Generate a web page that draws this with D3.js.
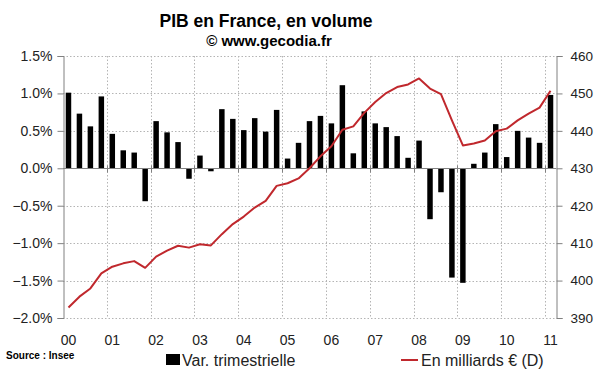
<!DOCTYPE html>
<html>
<head>
<meta charset="utf-8">
<script src="https://cdn.jsdelivr.net/npm/d3@7"></script>
<style>
  body { margin: 0; background: #fff; }
  svg { display: block; font-family: "Liberation Sans", Arial, sans-serif; }
</style>
</head>
<body>
<div id="chart"></div>
<script>
const width = 600;
const height = 372;

// données trimestrielles 2000T1 -> 2011T1
const quarters = d3.range(45).map(i => `${2000 + Math.floor(i / 4)}T${i % 4 + 1}`);
const yearLabels = ['00', '01', '02', '03', '04', '05', '06', '07', '08', '09', '10', '11'];

// variation trimestrielle (%)
const varTrim = [
  1.01, 0.73, 0.56, 0.96, 0.46, 0.24, 0.21, -0.44,
  0.63, 0.48, 0.35, -0.14, 0.17, -0.04, 0.79, 0.66,
  0.51, 0.67, 0.49, 0.78, 0.13, 0.34, 0.63, 0.70,
  0.60, 1.11, 0.20, 0.76, 0.60, 0.55, 0.43, 0.14,
  0.37, -0.68, -0.32, -1.46, -1.53, 0.06, 0.21, 0.59,
  0.15, 0.50, 0.41, 0.34, 0.98
];

// PIB en milliards d'euros (axe droit)
const pibVolume = [
  392.8, 395.7, 397.9, 401.9, 403.7, 404.6, 405.2, 403.4,
  406.4, 408.0, 409.3, 408.8, 409.7, 409.4, 412.4, 415.1,
  417.1, 419.5, 421.3, 425.3, 426.0, 427.3, 430.0, 433.2,
  435.9, 440.3, 441.2, 444.8, 447.7, 450.1, 451.7, 452.4,
  454.0, 451.3, 449.8, 442.8, 436.1, 436.6, 437.4, 439.9,
  440.6, 442.8, 444.6, 446.2, 450.7
];

const leftTicks = [1.5, 1.0, 0.5, 0.0, -0.5, -1.0, -1.5, -2.0];
const rightTicks = [460, 450, 440, 430, 420, 410, 400, 390];

const x0 = 63, x1 = 556;
const yTop = 56, yBot = 318;

const svg = d3.select('#chart')
  .append('svg')
  .attr('width', width)
  .attr('height', height);

const x = d3.scaleBand()
  .domain(quarters)
  .range([x0, x1])
  .paddingInner(0.5)
  .paddingOuter(0.25);
const step = x.step();
const yearEdge = d => Math.round(x(d) - (step - x.bandwidth()) / 2) + 0.5;

const yL = d3.scaleLinear().domain([-2, 1.5]).range([yBot, yTop]);
const yR = d3.scaleLinear().domain([390, 460]).range([yBot, yTop]);

// grille
const grid = svg.append('g')
  .attr('stroke', '#b4b4b4')
  .attr('stroke-width', 1)
  .attr('stroke-dasharray', '1.5,2');

grid.selectAll('line.h')
  .data(leftTicks)
  .join('line')
  .attr('class', 'h')
  .attr('x1', x0).attr('x2', x1)
  .attr('y1', d => Math.round(yL(d)) + 0.5)
  .attr('y2', d => Math.round(yL(d)) + 0.5);

const yearStarts = d3.range(1, 12).map(k => quarters[k * 4]);
grid.selectAll('line.v')
  .data(yearStarts)
  .join('line')
  .attr('class', 'v')
  .attr('x1', yearEdge)
  .attr('x2', yearEdge)
  .attr('y1', yTop).attr('y2', yBot);

// barres
svg.append('g')
  .selectAll('rect')
  .data(varTrim)
  .join('rect')
  .attr('x', (d, i) => x(quarters[i]))
  .attr('width', x.bandwidth())
  .attr('y', d => yL(Math.max(0, d)))
  .attr('height', d => Math.abs(yL(d) - yL(0)))
  .attr('fill', '#000');

// axe horizontal (0%)
const zeroY = Math.round(yL(0)) + 0.5;
svg.append('line')
  .attr('x1', x0).attr('x2', x1)
  .attr('y1', zeroY).attr('y2', zeroY)
  .attr('stroke', '#808080');

svg.append('g')
  .selectAll('line')
  .data(yearStarts)
  .join('line')
  .attr('x1', yearEdge)
  .attr('x2', yearEdge)
  .attr('y1', zeroY - 3).attr('y2', zeroY + 4)
  .attr('stroke', '#808080');

// axe gauche
const axisL = d3.axisLeft(yL)
  .tickValues(leftTicks)
  .tickSize(6)
  .tickPadding(5)
  .tickFormat(d => d3.format('.1f')(d) + '%');
const gL = svg.append('g')
  .attr('transform', `translate(${x0 + 0.5},0)`)
  .call(axisL);

// axe droit
const axisR = d3.axisRight(yR)
  .tickValues(rightTicks)
  .tickSize(6)
  .tickPadding(8)
  .tickFormat(d3.format('d'));
const gR = svg.append('g')
  .attr('transform', `translate(${x1 + 0.5},0)`)
  .call(axisR);

[gL, gR].forEach(g => {
  g.select('.domain').attr('stroke', '#808080');
  g.selectAll('.tick line').attr('stroke', '#808080');
  g.selectAll('.tick text').attr('fill', '#222');
});
gL.selectAll('.tick text').style('font-size', '14px');
gR.selectAll('.tick text').style('font-size', '13.5px');

// courbe PIB
const line = d3.line()
  .x((d, i) => x(quarters[i]) + x.bandwidth() / 2)
  .y(d => yR(d));

svg.append('path')
  .datum(pibVolume)
  .attr('d', line)
  .attr('fill', 'none')
  .attr('stroke', '#c0282d')
  .attr('stroke-width', 2)
  .attr('stroke-linejoin', 'round');

// étiquettes années
svg.append('g')
  .selectAll('text')
  .data(yearLabels)
  .join('text')
  .attr('x', (d, i) => x(quarters[i * 4]) + x.bandwidth() / 2)
  .attr('y', 345)
  .attr('text-anchor', 'middle')
  .style('font-size', '14px')
  .attr('fill', '#222')
  .text(d => d);

// titres
svg.append('text')
  .attr('x', 266).attr('y', 27)
  .attr('text-anchor', 'middle')
  .style('font-size', '17.5px')
  .style('font-weight', 'bold')
  .text('PIB en France, en volume');

svg.append('text')
  .attr('x', 269).attr('y', 46)
  .attr('text-anchor', 'middle')
  .style('font-size', '15px')
  .style('font-weight', 'bold')
  .text('© www.gecodia.fr');

svg.append('text')
  .attr('x', 6).attr('y', 359)
  .style('font-size', '10px')
  .style('font-weight', 'bold')
  .text('Source : Insee');

// légende
svg.append('rect')
  .attr('x', 166).attr('y', 354)
  .attr('width', 14).attr('height', 11)
  .attr('fill', '#000');
svg.append('text')
  .attr('x', 182).attr('y', 366)
  .style('font-size', '16px')
  .attr('fill', '#222')
  .text('Var. trimestrielle');

svg.append('line')
  .attr('x1', 401).attr('x2', 418)
  .attr('y1', 360).attr('y2', 360)
  .attr('stroke', '#c0282d')
  .attr('stroke-width', 2);
svg.append('text')
  .attr('x', 421).attr('y', 366)
  .style('font-size', '16px')
  .attr('fill', '#222')
  .text('En milliards € (D)');
</script>
</body>
</html>
